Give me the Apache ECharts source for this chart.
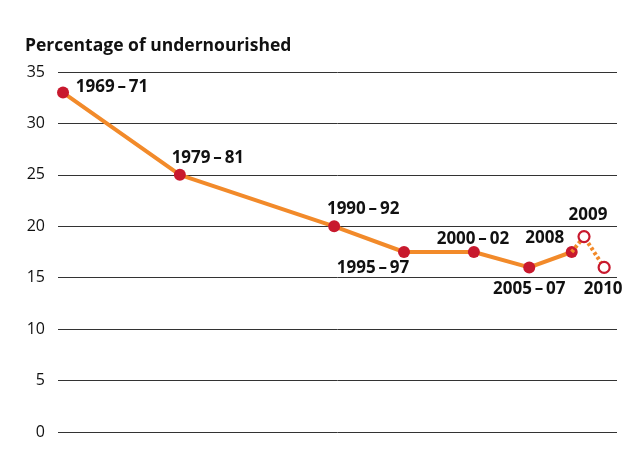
<!DOCTYPE html>
<html>
<head>
<meta charset="utf-8">
<script src="https://cdn.jsdelivr.net/npm/echarts@6/dist/echarts.min.js"></script>
<style>
  html, body { margin: 0; padding: 0; background: #fff; }
  #myChart { width: 634px; height: 466px; }
</style>
</head>
<body>
<div id="myChart"></div>
<script>
// Periods and their position along the (unevenly spaced) time line, 0-100
let periods = ["1969\u2009–\u200971", "1979\u2009–\u200981", "1990\u2009–\u200992", "1995\u2009–\u200997",
  "2000\u2009–\u200902", "2005\u2009–\u200907", "2008", "2009", "2010"];
let positions = [0.9, 21.8, 49.4, 61.9, 74.4, 84.3, 91.9, 94.1, 97.7];
let undernourished = [33, 25, 20, 17.5, 17.5, 16, 17.5, 19, 16];
let yTicks = [0, 5, 10, 15, 20, 25, 30, 35];

// label offsets from each point (label centre minus point centre)
let labelOffsets = [[49, -5], [28, -17], [29, -17], [-31, 16], [-1, -13], [0, 22], [-27, -14], [4, -21], [-1, 22]];

let red = "#c8192e";
let orange = "#f28a2a";
let font = "'Open Sans', 'Noto Sans', sans-serif";

function point(i, hollow) {
  return {
    value: [positions[i], undernourished[i]],
    symbolSize: hollow ? 11 : 12,
    itemStyle: hollow
      ? { color: "#fff", borderColor: red, borderWidth: 2.2 }
      : { color: red },
    label: {
      show: true,
      formatter: periods[i],
      position: "inside",
      offset: labelOffsets[i],
    },
  };
}

let solidData = [];
for (let i = 0; i <= 6; i++) solidData.push(point(i, false));
let dashedData = [
  { value: [positions[6], undernourished[6]], symbol: "none" },
  point(7, true),
  point(8, true),
];

let myChart = echarts.init(document.getElementById("myChart"));

let option = {
  animation: false,
  title: {
    text: "Percentage of undernourished",
    left: 20,
    top: 32,
    textStyle: { fontFamily: font, fontWeight: "bold", fontSize: 17.5, color: "#111" },
  },
  grid: { left: 58, right: 17, top: 72, bottom: 34 },
  xAxis: {
    type: "value",
    min: 0,
    max: 100,
    show: false,
  },
  yAxis: {
    type: "value",
    min: yTicks[0],
    max: yTicks[yTicks.length - 1],
    interval: 5,
    axisLine: { show: false },
    axisTick: { show: false },
    axisLabel: { margin: 13, fontFamily: font, fontSize: 16, color: "#111" },
    splitLine: { lineStyle: { color: "#333", width: 1 } },
  },
  series: [
    {
      type: "line",
      z: 3,
      symbol: "circle",
      data: solidData,
      lineStyle: { color: orange, width: 4 },
      label: { fontFamily: font, fontWeight: "bold", fontSize: 17, color: "#111" },
    },
    {
      type: "line",
      z: 4,
      symbol: "circle",
      data: dashedData,
      lineStyle: { color: orange, width: 4, type: [3, 2.5] },
      label: { fontFamily: font, fontWeight: "bold", fontSize: 17, color: "#111" },
    },
  ],
};

myChart.setOption(option);
</script>
</body>
</html>
